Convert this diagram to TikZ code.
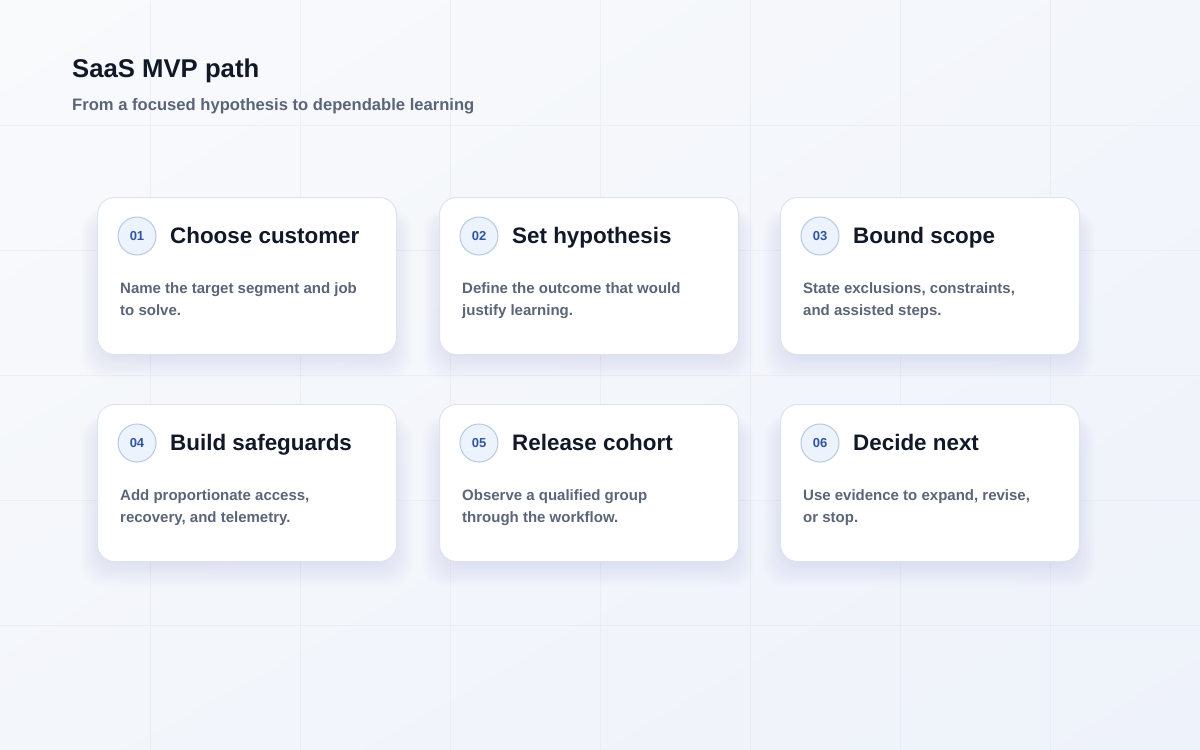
\documentclass[tikz,border=0pt]{standalone}
\usepackage{fontspec}
\setmainfont{Liberation Sans}
\usetikzlibrary{calc,shadings}
\definecolor{bgA}{HTML}{F9FAFC}
\definecolor{bgB}{HTML}{EEF2FA}
\definecolor{bgC}{HTML}{F3F6FB}
\definecolor{gridc}{HTML}{E3E8F0}
\definecolor{ink}{HTML}{111827}
\definecolor{slate}{HTML}{5B6577}
\definecolor{cardline}{HTML}{DEE3EC}
\definecolor{numink}{HTML}{2F55A0}
\definecolor{numfill}{HTML}{EDF3FD}
\definecolor{numline}{HTML}{B7C9E4}
\definecolor{shadowc}{HTML}{5C6CA6}
\tikzset{
  card/.style={rectangle, rounded corners=17pt, minimum width=299pt, minimum height=157pt, inner sep=0pt, fill=white, draw=cardline, line width=1pt},
  numbadge/.style={circle, minimum size=38pt, inner sep=0pt, fill=numfill, draw=numline, line width=1pt, text=numink, font=\fontsize{13}{13}\selectfont\bfseries},
  cardtitle/.style={anchor=base west, inner sep=0pt, text=ink, font=\fontsize{22.4}{26}\selectfont\bfseries},
  carddesc/.style={anchor=base west, inner sep=0pt, text=slate, align=left, font=\fontsize{15}{22}\selectfont\bfseries},
  maintitle/.style={anchor=base west, inner sep=0pt, text=ink, font=\fontsize{25.7}{30}\selectfont\bfseries},
  subtitle/.style={anchor=base west, inner sep=0pt, text=slate, font=\fontsize{16.6}{20}\selectfont\bfseries},
  gridline/.style={gridc, line width=1pt, opacity=0.55},
}
\begin{document}
\begin{tikzpicture}[x=1pt, y=-1pt]
\useasboundingbox (0,0) rectangle (1200,750);
\shade[upper left=bgA, upper right=bgC, lower left=bgC, lower right=bgB] (0,0) rectangle (1200,750);
\foreach \gx in {150,300,...,1050} \draw[gridline] (\gx,0) -- (\gx,750);
\foreach \gy in {125,250,...,625} \draw[gridline] (0,\gy) -- (1200,\gy);

\node[maintitle] (title) at (72,77) {SaaS MVP path};
\node[subtitle] (sub) at (72,110) {From a focused hypothesis to dependable learning};

% shadows
\foreach \cx/\cy in {97/197, 439/197, 780/197, 97/404, 439/404, 780/404}{
  \foreach \s in {1,...,14}{
    \fill[shadowc, opacity=0.011, rounded corners=22pt]
      (\cx+12-\s*2, \cy+26-\s*1) rectangle (\cx+287+\s*2, \cy+150+\s*2.3);
  }
}

\foreach \i/\cx/\cy/\num/\ttl/\dsc in {
  1/97/197/01/Choose customer/{Name the target segment and job\\to solve.},
  2/439/197/02/Set hypothesis/{Define the outcome that would\\justify learning.},
  3/780/197/03/Bound scope/{State exclusions, constraints,\\and assisted steps.},
  4/97/404/04/Build safeguards/{Add proportionate access,\\recovery, and telemetry.},
  5/439/404/05/Release cohort/{Observe a qualified group\\through the workflow.},
  6/780/404/06/Decide next/{Use evidence to expand, revise,\\or stop.}}{
  \node[card, anchor=north west] (card\i) at (\cx,\cy) {};
  \node[numbadge] (num\i) at ($(card\i.north west)+(40,39)$) {\num};
  \node[cardtitle] (ttl\i) at ($(card\i.north west)+(73,46)$) {\ttl};
  \node[carddesc] (dsc\i) at ($(card\i.north west)+(23,118)$) {\dsc};
}
\end{tikzpicture}
\end{document}
